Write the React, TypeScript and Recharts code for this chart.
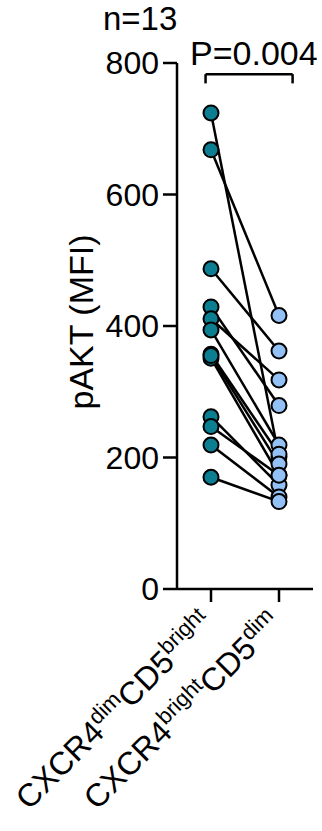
import React from 'react';
import {
  ComposedChart,
  Line,
  Scatter,
  XAxis,
  YAxis,
  ReferenceLine,
} from 'recharts';

// paired values, one entry per donor (n=13)
const dimBright = [724, 668, 487, 429, 411, 394, 357, 351, 355, 262, 247, 219, 170];
const brightDim = [201, 416, 362, 279, 318, 219, 205, 173, 190, 158, 173, 140, 133];

const groupMain = ['CXCR4', 'CXCR4'];
const groupSup = ['dim', 'bright'];
const groupMain2 = ['CD5', 'CD5'];
const groupSup2 = ['bright', 'dim'];

const yTicks = [0, 200, 400, 600, 800];

const TEAL = '#0B7E92';
const LIGHT = '#93C0F5';
const FONT = '"Liberation Sans", Arial, sans-serif';

const pairs = dimBright.map((v, i) => [
  { x: 1, y: v },
  { x: 2, y: brightDim[i] },
]);
const leftPts = dimBright.map((v) => ({ x: 1, y: v }));
const rightPts = brightDim.map((v) => ({ x: 2, y: v }));

const dot = (fill: string) => (p: any) => (
  <circle cx={p.cx} cy={p.cy} r={7.5} fill={fill} stroke="#000" strokeWidth={2} />
);

const XTick = (props: any) => {
  const { x, y, payload } = props;
  const i = payload.value - 1;
  return (
    <g transform={`translate(${x + 4},${y + 21})`}>
      <text transform="rotate(-45)" textAnchor="end" fontSize={32} fill="#000" fontFamily={FONT}>
        {groupMain[i]}
        <tspan fontSize={22} dy={-12}>{groupSup[i]}</tspan>
        <tspan fontSize={32} dy={12}>{groupMain2[i]}</tspan>
        <tspan fontSize={22} dy={-12}>{groupSup2[i]}</tspan>
      </text>
    </g>
  );
};

export default function App() {
  return (
    <div style={{ position: 'absolute', left: 0, top: 0, width: 322, height: 831, fontFamily: FONT, background: '#fff' }}>
      <ComposedChart width={322} height={831} margin={{ top: 63, right: 9, left: 0, bottom: 0 }}>
        <XAxis
          dataKey="x"
          type="number"
          domain={[0.5, 2.5]}
          ticks={[1, 2]}
          height={242}
          tickSize={13}
          tickLine={{ stroke: '#000', strokeWidth: 2.5 }}
          axisLine={{ stroke: '#000', strokeWidth: 2.5 }}
          tick={<XTick />}
          interval={0}
        />
        <YAxis
          type="number"
          domain={[0, 800]}
          ticks={yTicks}
          width={177}
          tickSize={14}
          tickMargin={4}
          tickLine={{ stroke: '#000', strokeWidth: 2.5 }}
          axisLine={{ stroke: '#000', strokeWidth: 2.5 }}
          tick={{ fill: '#000', fontSize: 32, fontFamily: FONT }}
          label={{
            content: () => (
              <text
                x={93}
                y={322}
                transform="rotate(-90 93 322)"
                textAnchor="middle"
                fontSize={34}
                fill="#000"
                fontFamily={FONT}
              >
                pAKT (MFI)
              </text>
            ),
          }}
        />
        {pairs.map((d, i) => (
          <Line
            key={i}
            data={d}
            dataKey="y"
            stroke="#000"
            strokeWidth={2.5}
            dot={false}
            activeDot={false}
            isAnimationActive={false}
          />
        ))}
        <Scatter data={leftPts} dataKey="y" shape={dot(TEAL)} isAnimationActive={false} />
        <Scatter data={rightPts} dataKey="y" shape={dot(LIGHT)} isAnimationActive={false} />
        {/* significance bracket */}
        <ReferenceLine
          segment={[{ x: 0.92, y: 783 }, { x: 2.2, y: 783 }]}
          stroke="#000"
          strokeWidth={2.5}
          ifOverflow="visible"
        />
        <ReferenceLine
          segment={[{ x: 0.92, y: 783 }, { x: 0.92, y: 769 }]}
          stroke="#000"
          strokeWidth={2.5}
          ifOverflow="visible"
        />
        <ReferenceLine
          segment={[{ x: 2.2, y: 783 }, { x: 2.2, y: 769 }]}
          stroke="#000"
          strokeWidth={2.5}
          ifOverflow="visible"
        />
      </ComposedChart>
      <div style={{ position: 'absolute', left: 103, top: 0, fontSize: 33, lineHeight: '38px', color: '#000' }}>n=13</div>
      <div style={{ position: 'absolute', left: 190, top: 34, fontSize: 34, lineHeight: '38px', color: '#000' }}>P=0.004</div>
    </div>
  );
}
